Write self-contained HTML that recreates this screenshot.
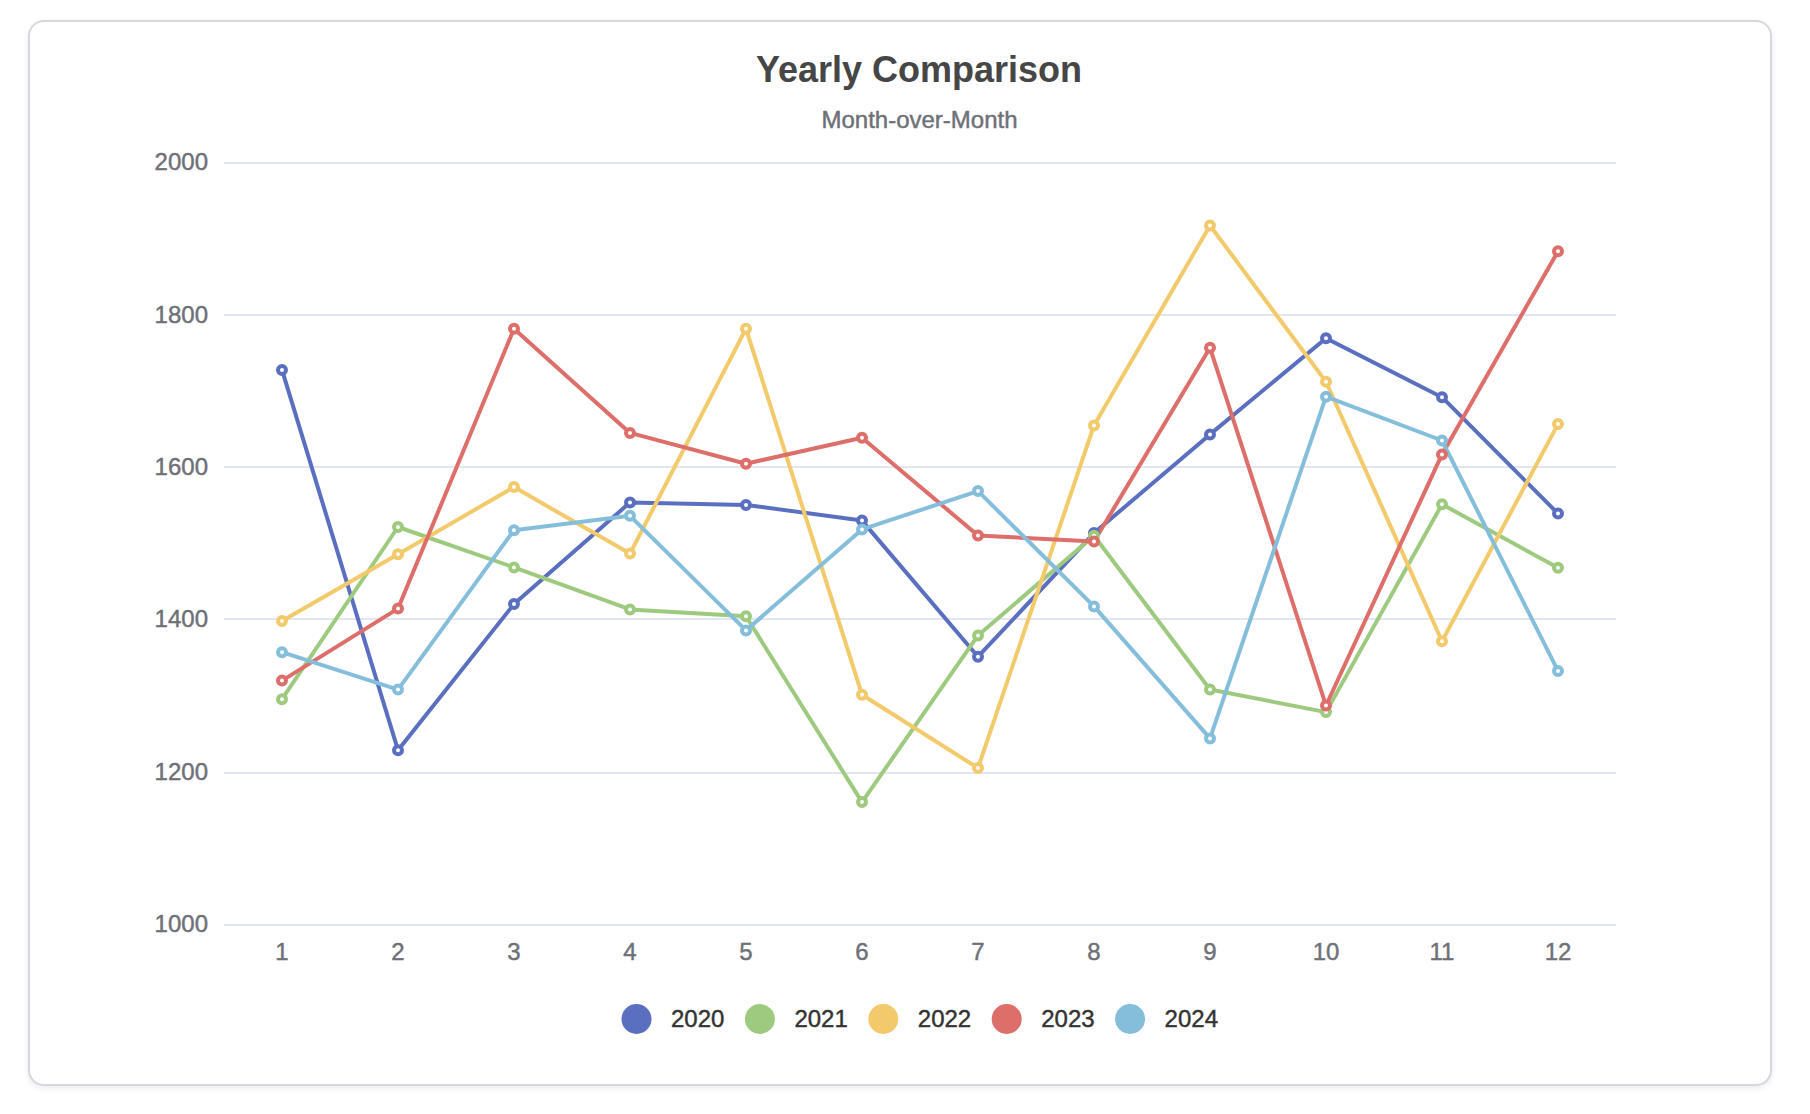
<!DOCTYPE html>
<html lang="en"><head><meta charset="utf-8"><title>Yearly Comparison</title>
<style>
html,body{margin:0;padding:0;background:#fff;}
body{width:1810px;height:1114px;position:relative;overflow:hidden;font-family:"Liberation Sans",sans-serif;}
.card{position:absolute;left:28px;top:20px;width:1740px;height:1062px;border:2px solid #d6d8de;border-radius:16px;background:#fff;box-shadow:0 2px 6px rgba(0,0,0,0.09);}
svg{position:absolute;left:0;top:0;}
text{font-family:"Liberation Sans",sans-serif;}
.t{font-size:36px;font-weight:bold;fill:#464646;}
.s{font-size:24px;fill:#6e7078;stroke:#6e7078;stroke-width:0.45px;}
.a{font-size:24px;fill:#6e7078;stroke:#6e7078;stroke-width:0.45px;}
.l{font-size:24px;fill:#333;stroke:#333;stroke-width:0.45px;}
</style></head><body>
<div class="card"></div>
<svg width="1810" height="1114" viewBox="0 0 1810 1114">
<text class="t" x="919" y="82.3" text-anchor="middle">Yearly Comparison</text>
<text class="s" x="919.5" y="127.7" text-anchor="middle">Month-over-Month</text>
<g stroke="#e1e6f0" stroke-width="2" shape-rendering="crispEdges">
<line x1="224" y1="163" x2="1616" y2="163"/>
<line x1="224" y1="315" x2="1616" y2="315"/>
<line x1="224" y1="467" x2="1616" y2="467"/>
<line x1="224" y1="619" x2="1616" y2="619"/>
<line x1="224" y1="773" x2="1616" y2="773"/>
<line x1="224" y1="925" x2="1616" y2="925"/>
</g>
<g class="a" text-anchor="end">
<text class="a" x="208" y="170.40">2000</text>
<text class="a" x="208" y="322.75">1800</text>
<text class="a" x="208" y="475.10">1600</text>
<text class="a" x="208" y="627.45">1400</text>
<text class="a" x="208" y="779.80">1200</text>
<text class="a" x="208" y="932.15">1000</text>
</g>
<g text-anchor="middle">
<text class="a" x="282" y="960.2">1</text>
<text class="a" x="398" y="960.2">2</text>
<text class="a" x="514" y="960.2">3</text>
<text class="a" x="630" y="960.2">4</text>
<text class="a" x="746" y="960.2">5</text>
<text class="a" x="862" y="960.2">6</text>
<text class="a" x="978" y="960.2">7</text>
<text class="a" x="1094" y="960.2">8</text>
<text class="a" x="1210" y="960.2">9</text>
<text class="a" x="1326" y="960.2">10</text>
<text class="a" x="1442" y="960.2">11</text>
<text class="a" x="1558" y="960.2">12</text>
</g>
<g fill="none" stroke-width="4" stroke-linejoin="bevel">
<polyline stroke="#5a6fc0" points="282,369.9 398,750.2 514,604.1 630,502.5 746,504.9 862,520.6 978,656.7 1094,533.1 1210,434.4 1326,338.2 1442,397.2 1558,513.6"/>
<polyline stroke="#9eca7f" points="282,699.2 398,527 514,567.4 630,609.4 746,616.3 862,802.1 978,635.4 1094,535.7 1210,689.5 1326,712.1 1442,504.3 1558,567.8"/>
<polyline stroke="#f2ca6b" points="282,621.1 398,554.2 514,487.1 630,553.6 746,328.7 862,694.7 978,768.0 1094,425.4 1210,225.5 1326,381.8 1442,641.2 1558,424.1"/>
<polyline stroke="#de6e6a" points="282,680.6 398,608.6 514,328.7 630,432.9 746,463.7 862,437.7 978,535.5 1094,541.5 1210,347.8 1326,705.5 1442,454.4 1558,251.3"/>
<polyline stroke="#85bedb" points="282,652.2 398,689.6 514,530.2 630,515.8 746,630.4 862,529.4 978,491.1 1094,606.4 1210,738.4 1326,396.7 1442,440.5 1558,670.9"/>
</g>
<g fill="#fff" stroke-width="4">
<g stroke="#5a6fc0"><circle cx="282" cy="369.9" r="4"/><circle cx="398" cy="750.2" r="4"/><circle cx="514" cy="604.1" r="4"/><circle cx="630" cy="502.5" r="4"/><circle cx="746" cy="504.9" r="4"/><circle cx="862" cy="520.6" r="4"/><circle cx="978" cy="656.7" r="4"/><circle cx="1094" cy="533.1" r="4"/><circle cx="1210" cy="434.4" r="4"/><circle cx="1326" cy="338.2" r="4"/><circle cx="1442" cy="397.2" r="4"/><circle cx="1558" cy="513.6" r="4"/></g>
<g stroke="#9eca7f"><circle cx="282" cy="699.2" r="4"/><circle cx="398" cy="527" r="4"/><circle cx="514" cy="567.4" r="4"/><circle cx="630" cy="609.4" r="4"/><circle cx="746" cy="616.3" r="4"/><circle cx="862" cy="802.1" r="4"/><circle cx="978" cy="635.4" r="4"/><circle cx="1094" cy="535.7" r="4"/><circle cx="1210" cy="689.5" r="4"/><circle cx="1326" cy="712.1" r="4"/><circle cx="1442" cy="504.3" r="4"/><circle cx="1558" cy="567.8" r="4"/></g>
<g stroke="#f2ca6b"><circle cx="282" cy="621.1" r="4"/><circle cx="398" cy="554.2" r="4"/><circle cx="514" cy="487.1" r="4"/><circle cx="630" cy="553.6" r="4"/><circle cx="746" cy="328.7" r="4"/><circle cx="862" cy="694.7" r="4"/><circle cx="978" cy="768.0" r="4"/><circle cx="1094" cy="425.4" r="4"/><circle cx="1210" cy="225.5" r="4"/><circle cx="1326" cy="381.8" r="4"/><circle cx="1442" cy="641.2" r="4"/><circle cx="1558" cy="424.1" r="4"/></g>
<g stroke="#de6e6a"><circle cx="282" cy="680.6" r="4"/><circle cx="398" cy="608.6" r="4"/><circle cx="514" cy="328.7" r="4"/><circle cx="630" cy="432.9" r="4"/><circle cx="746" cy="463.7" r="4"/><circle cx="862" cy="437.7" r="4"/><circle cx="978" cy="535.5" r="4"/><circle cx="1094" cy="541.5" r="4"/><circle cx="1210" cy="347.8" r="4"/><circle cx="1326" cy="705.5" r="4"/><circle cx="1442" cy="454.4" r="4"/><circle cx="1558" cy="251.3" r="4"/></g>
<g stroke="#85bedb"><circle cx="282" cy="652.2" r="4"/><circle cx="398" cy="689.6" r="4"/><circle cx="514" cy="530.2" r="4"/><circle cx="630" cy="515.8" r="4"/><circle cx="746" cy="630.4" r="4"/><circle cx="862" cy="529.4" r="4"/><circle cx="978" cy="491.1" r="4"/><circle cx="1094" cy="606.4" r="4"/><circle cx="1210" cy="738.4" r="4"/><circle cx="1326" cy="396.7" r="4"/><circle cx="1442" cy="440.5" r="4"/><circle cx="1558" cy="670.9" r="4"/></g>
</g>
<g>
<circle cx="636.5" cy="1019" r="15" fill="#5a6fc0"/><text class="l" x="671.0" y="1026.7">2020</text>
<circle cx="759.9" cy="1019" r="15" fill="#9eca7f"/><text class="l" x="794.4" y="1026.7">2021</text>
<circle cx="883.3" cy="1019" r="15" fill="#f2ca6b"/><text class="l" x="917.8" y="1026.7">2022</text>
<circle cx="1006.7" cy="1019" r="15" fill="#de6e6a"/><text class="l" x="1041.2" y="1026.7">2023</text>
<circle cx="1130.1" cy="1019" r="15" fill="#85bedb"/><text class="l" x="1164.6" y="1026.7">2024</text>
</g>
</svg>
</body></html>
